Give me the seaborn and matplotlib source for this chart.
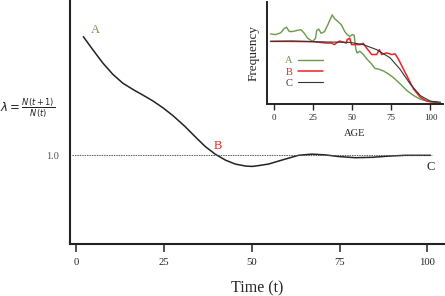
import numpy as np
import pandas as pd
import seaborn as sns
import matplotlib.pyplot as plt

# main curve: growth rate lambda over time
time_t = [2.1, 4.8, 7.6, 10.5, 13.3, 16.2, 19.0, 21.9, 24.7, 27.6, 31.1, 33.9,
          36.8, 39.6, 42.5, 45.3, 48.2, 50.1, 51.9, 54.8, 58.6, 63.3, 67.2,
          70.9, 74.7, 79.5, 84.3, 89.0, 93.7, 100.9]
lam = [1.299, 1.266, 1.233, 1.204, 1.182, 1.166, 1.152, 1.137, 1.120, 1.100,
       1.072, 1.047, 1.022, 1.003, 0.988, 0.978, 0.973, 0.972, 0.974, 0.978,
       0.988, 1.000, 1.003, 1.001, 0.997, 0.994, 0.995, 0.998, 1.000, 1.000]

# inset: age distributions at points A, B, C
age_a = [-2.2, 1.1, 4.3, 6.5, 8.0, 9.7, 11.8, 15.1, 17.2, 19.4, 21.5, 24.7,
         26.5, 27.3, 28.6, 30.1, 32.3, 34.4, 35.9, 37.2, 38.7, 40.9, 43.0,
         45.2, 46.7, 48.4, 50.1, 51.2, 52.3, 53.1, 54.8, 57.0, 59.1, 62.4,
         64.5, 66.7, 69.9, 73.1, 76.3, 80.6, 84.9, 89.2, 93.5, 97.8, 102.1, 106.4]
freq_a = [1.12, 1.11, 1.14, 1.21, 1.23, 1.16, 1.16, 1.18, 1.19, 1.13, 1.05, 1.00,
          1.05, 1.18, 1.20, 1.13, 1.16, 1.27, 1.36, 1.43, 1.37, 1.32, 1.27,
          1.16, 1.11, 1.08, 1.11, 1.10, 0.87, 0.81, 0.84, 0.79, 0.72, 0.63,
          0.56, 0.55, 0.52, 0.47, 0.41, 0.31, 0.20, 0.12, 0.06, 0.03, 0.005, 0.0]

age_b = [-2.2, 10.0, 25.0, 33.3, 36.6, 38.7, 39.8, 41.9, 46.2, 46.7, 48.4, 49.5,
         50.5, 54.8, 57.0, 59.1, 62.4, 65.6, 67.3, 68.8, 72.0, 75.3, 77.4,
         79.6, 82.8, 86.0, 89.2, 93.5, 97.8, 104.3]
freq_b = [1.0, 1.0, 0.995, 0.973, 0.973, 0.947, 0.973, 1.005, 0.973, 1.027,
          1.053, 0.947, 0.947, 0.947, 0.968, 0.893, 0.786, 0.786, 0.866, 0.786,
          0.813, 0.786, 0.797, 0.706, 0.545, 0.385, 0.225, 0.091, 0.027, 0.011]

age_c = [-2.2, 12.0, 33.5, 48.4, 57.0, 65.6, 74.2, 80.6, 87.1, 93.5, 100.0, 106.4]
freq_c = [1.0, 1.005, 0.99, 0.984, 0.947, 0.866, 0.733, 0.545, 0.305, 0.118, 0.027, 0.011]

green = '#6a9a4c'
red = '#ee2222'

sns.set_style('ticks')
plt.rcParams['font.family'] = ['Liberation Serif', 'DejaVu Serif']
plt.rcParams['mathtext.fontset'] = 'dejavusans'

fig = plt.figure(figsize=(4.45, 2.96), dpi=100)
ax = fig.add_axes([70 / 445, 52 / 296, 375 / 445, 244 / 296])

main = pd.DataFrame({'t': time_t, 'lam': lam})
sns.lineplot(data=main, x='t', y='lam', ax=ax, color='#222222', linewidth=1.1)
ax.axhline(1.0, xmin=0.005, xmax=0.965, color='#555555', linestyle=(0, (1.5, 1)), linewidth=0.7)

ax.set_xlim(-1.7, 105)
ax.set_ylim(0.7765, 1.3914)
ax.set_xticks([0, 25, 50, 75, 100])
ax.set_yticks([1.0])
ax.set_yticklabels(['1.0'], color='#555555')
ax.tick_params(axis='x', length=5.8, width=1.1, labelsize=7.7, pad=4, color='#222222')
ax.tick_params(axis='y', length=0, labelsize=7.5, pad=8)
for s in ['top', 'right']:
    ax.spines[s].set_visible(False)
for s in ['left', 'bottom']:
    ax.spines[s].set_linewidth(1.5)
    ax.spines[s].set_color('#222222')
ax.set_xlabel('Time (t)', fontsize=11.5, labelpad=10)
ax.set_ylabel('')
ax.text(-0.188, 0.555, r'$\lambda = \frac{N(t+1)}{N(t)}$', transform=ax.transAxes,
        fontsize=8.5, ha='left', va='center', color='#222222')

ax.text(5.4, 1.316, 'A', color=green, fontsize=9, ha='center', va='center')
ax.text(40.4, 1.024, 'B', color=red, fontsize=9, ha='center', va='center')
ax.text(100.9, 0.971, 'C', color='#222222', fontsize=9, ha='center', va='center')

# inset axes
ins = fig.add_axes([267 / 445, (296 - 103.5) / 296, 176 / 445, 101.5 / 296])
sns.lineplot(x=age_a, y=freq_a, ax=ins, color=green, linewidth=1.0, label='A')
sns.lineplot(x=age_b, y=freq_b, ax=ins, color=red, linewidth=1.1, label='B')
sns.lineplot(x=age_c, y=freq_c, ax=ins, color='#333333', linewidth=0.8, label='C')
ins.set_xlim(-4.5, 108)
ins.set_ylim(-0.01, 1.64)
ins.set_xticks([0, 25, 50, 75, 100])
ins.set_yticks([])
ins.tick_params(axis='x', length=4.3, width=1.0, labelsize=6.4, pad=3.5)
for s in ['top', 'right']:
    ins.spines[s].set_visible(False)
for s in ['left', 'bottom']:
    ins.spines[s].set_linewidth(1.4)
    ins.spines[s].set_color('#222222')
ins.set_xlabel('AGE', fontsize=7.6, labelpad=5)
ins.set_ylabel('Frequency', fontsize=9.5, labelpad=5)
ins.legend(loc='center left', bbox_to_anchor=(0.05, 0.31), frameon=False,
           markerfirst=False, labelcolor='linecolor', fontsize=7.5,
           handlelength=2.4, handletextpad=0.5, labelspacing=0.2)

fig.savefig('out.png', dpi=100)
